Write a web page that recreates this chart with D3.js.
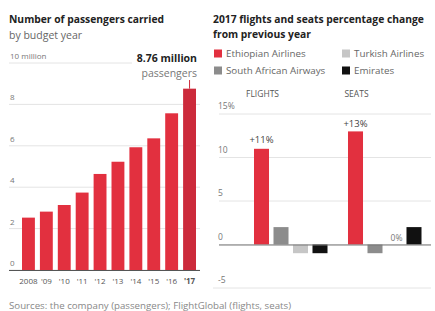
<!DOCTYPE html>
<html lang="en">
<head>
<meta charset="utf-8">
<title>passengers and seats</title>
<script src="https://cdn.jsdelivr.net/npm/d3@7"></script>
<style>
  body{ margin:0; background:#fff; font-family:"Open Sans", sans-serif; }
  svg text{ font-family:"Open Sans", sans-serif; }
</style>
</head>
<body>
<div id="chart"></div>
<script>
  // passengers (millions) by budget year
  var years = ["2008","'09","'10","'11","'12","'13","'14","'15","'16","'17"]
  var passengers = [2.53, 2.82, 3.14, 3.74, 4.64, 5.23, 5.93, 6.36, 7.57, 8.76]
  var passTicks = [0, 2, 4, 6, 8, 10]

  // 2017 percentage change
  var groups = ["FLIGHTS", "SEATS"]
  var airlines = ["Ethiopian Airlines", "South African Airways", "Turkish Airlines", "Emirates"]
  var flightsChange = [11, 2, -1, -1]
  var seatsChange = [13, -1, 0, 2]
  var pctTicks = [-5, 0, 5, 10, 15]
  var colors = ["#e2303f", "#8c8c8c", "#c6c6c6", "#111111"]

  var w = 435, h = 311
  var svg = d3.select("#chart").append("svg").attr("width", w).attr("height", h)

  // ---- left chart ----
  var left = svg.append("g")
  left.append("text").attr("x", 9).attr("y", 23).text("Number of passengers carried")
    .attr("font-size", 10.3).attr("font-weight", 700).attr("fill", "#222")
  left.append("text").attr("x", 9).attr("y", 39).text("by budget year")
    .attr("font-size", 10.5).attr("fill", "#666")

  var x = d3.scaleBand().domain(years).range([19.5, 198.5]).paddingInner(0.28).paddingOuter(0.14)
  var y = d3.scaleLinear().domain([0, 10]).range([270, 63])

  left.selectAll(".grid").data(passTicks).enter().append("line")
    .attr("x1", 9).attr("x2", function(d){ return d == 10 ? 132 : 200 })
    .attr("y1", function(d){ return y(d) }).attr("y2", function(d){ return y(d) })
    .attr("stroke", "#e4e4e4").attr("stroke-width", 1)

  left.selectAll(".ylab").data(passTicks).enter().append("text")
    .attr("x", 10).attr("y", function(d){ return y(d) - 4 })
    .text(function(d){ return d == 10 ? "10 million" : d })
    .attr("font-size", 8).attr("fill", "#777")

  left.selectAll("rect").data(passengers).enter().append("rect")
    .attr("x", function(d, i){ return x(years[i]) })
    .attr("width", x.bandwidth())
    .attr("y", function(d){ return y(d) })
    .attr("height", function(d){ return y(0) - y(d) })
    .attr("fill", function(d, i){ return i == years.length - 1 ? "#cc2a3b" : "#e2303f" })

  left.append("line").attr("x1", 9).attr("x2", 200).attr("y1", y(0) + 0.5).attr("y2", y(0) + 0.5)
    .attr("stroke", "#555").attr("stroke-width", 1)

  left.selectAll(".xlab").data(years).enter().append("text")
    .attr("x", function(d){ return x(d) + x.bandwidth() / 2 }).attr("y", 284)
    .attr("text-anchor", "middle").text(function(d){ return d })
    .attr("font-size", 8).attr("fill", "#555")
    .attr("font-weight", function(d, i){ return i == years.length - 1 ? 700 : 400 })

  var last = years[years.length - 1]
  var lx = x(last) + x.bandwidth() / 2
  left.append("text").attr("x", 197).attr("y", 62).attr("text-anchor", "end")
    .text("8.76 million").attr("font-size", 10.5).attr("font-weight", 700).attr("fill", "#222")
  left.append("text").attr("x", 197).attr("y", 77).attr("text-anchor", "end")
    .text("passengers").attr("font-size", 10.5).attr("fill", "#777")
  left.append("line").attr("x1", lx).attr("x2", lx).attr("y1", 80).attr("y2", y(passengers[9]))
    .attr("stroke", "#cc2a3b")

  // ---- right chart ----
  var right = svg.append("g")
  right.append("text").attr("x", 213).attr("y", 23).text("2017 flights and seats percentage change")
    .attr("font-size", 10.3).attr("font-weight", 700).attr("fill", "#222")
  right.append("text").attr("x", 213).attr("y", 38).text("from previous year")
    .attr("font-size", 10.3).attr("font-weight", 700).attr("fill", "#222")

  var legPos = [[214, 57], [214, 74], [342, 57], [342, 74]]
  airlines.forEach(function(a, i){
    right.append("rect").attr("x", legPos[i][0]).attr("y", legPos[i][1] - 7.5)
      .attr("width", 8).attr("height", 8).attr("fill", colors[i])
    right.append("text").attr("x", legPos[i][0] + 12).attr("y", legPos[i][1])
      .text(a).attr("font-size", 9.8).attr("fill", "#666")
  })

  var x0 = d3.scaleBand().domain(groups).range([254, 421.5]).paddingInner(0.218).paddingOuter(0)
  var x1 = d3.scaleBand().domain(airlines).range([0, x0.bandwidth()]).paddingInner(0.23).paddingOuter(0)
  var y2 = d3.scaleLinear().domain([-5, 15]).range([288, 114])

  right.selectAll(".grid").data(pctTicks).enter().append("line")
    .attr("x1", function(d){ return d == -5 ? 213 : 219 }).attr("x2", 431)
    .attr("y1", function(d){ return y2(d) }).attr("y2", function(d){ return y2(d) })
    .attr("stroke", "#e4e4e4")

  right.selectAll(".ylab").data(pctTicks).enter().append("text")
    .attr("x", 218).attr("y", function(d){ return y2(d) - 5 })
    .text(function(d){ return d == 15 ? "15%" : d })
    .attr("font-size", 8.5).attr("fill", "#777")

  var data = [flightsChange, seatsChange]
  groups.forEach(function(g, gi){
    right.append("text").attr("x", x0(g) + x1(airlines[0]) + x1.bandwidth() / 2 + 1).attr("y", 97)
      .attr("text-anchor", "middle").text(g).attr("font-size", 8.5).attr("fill", "#555")
    right.selectAll(".bar" + gi).data(data[gi]).enter().append("rect")
      .attr("x", function(d, i){ return x0(g) + x1(airlines[i]) })
      .attr("width", x1.bandwidth())
      .attr("y", function(d){ return y2(Math.max(0, d)) })
      .attr("height", function(d){ return Math.abs(y2(d) - y2(0)) })
      .attr("fill", function(d, i){ return colors[i] })
  })

  right.append("line").attr("x1", 219).attr("x2", 431).attr("y1", y2(0) + 0.5).attr("y2", y2(0) + 0.5)
    .attr("stroke", "#777")

  // value labels
  right.append("text").attr("x", x0("FLIGHTS") + x1(airlines[0]) + x1.bandwidth() / 2)
    .attr("y", y2(flightsChange[0]) - 6).attr("text-anchor", "middle")
    .text("+" + flightsChange[0] + "%").attr("font-size", 9.5).attr("fill", "#444")
  right.append("text").attr("x", x0("SEATS") + x1(airlines[0]) + x1.bandwidth() / 2)
    .attr("y", y2(seatsChange[0]) - 4).attr("text-anchor", "middle")
    .text("+" + seatsChange[0] + "%").attr("font-size", 9.5).attr("fill", "#444")
  right.append("text").attr("x", x0("SEATS") + x1(airlines[2]) + x1.bandwidth() / 2 + 2)
    .attr("y", y2(0) - 4).attr("text-anchor", "middle")
    .text(seatsChange[2] + "%").attr("font-size", 8.5).attr("fill", "#777")

  svg.append("text").attr("x", 9).attr("y", 309)
    .text("Sources: the company (passengers); FlightGlobal (flights, seats)")
    .attr("font-size", 9.7).attr("fill", "#888")
</script>
</body>
</html>
